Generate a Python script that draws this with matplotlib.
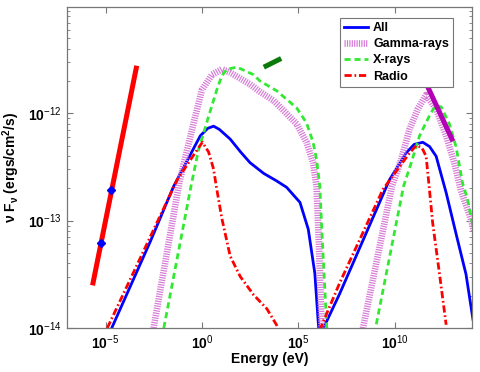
import matplotlib
matplotlib.use("Agg")
import matplotlib.pyplot as plt
import numpy as np
from matplotlib.ticker import FixedLocator, LogLocator, NullLocator, NullFormatter

plt.rcParams.update({
    "font.family": ["Liberation Sans", "DejaVu Sans"],
    "mathtext.fontset": "custom",
    "mathtext.rm": "Liberation Sans",
    "mathtext.it": "Liberation Sans:italic",
    "mathtext.bf": "Liberation Sans:bold",
})

# ---------------------------------------------------------------- data
# all values are log10(E/eV) and log10(nu F_nu / erg cm^-2 s^-1)
all_logE = [-4.68, -2.67, -1.47, -0.09, 0.30, 0.60, 0.90, 1.46, 2.00, 2.49, 3.20,
            3.87, 4.39, 5.08, 5.51, 5.85, 6.02, 6.18, 6.30, 7.14, 9.72, 10.58,
            11.00, 11.45, 11.80, 12.14, 12.66, 13.17, 13.69, 14.05]
all_logF = [-14.0, -13.19, -12.68, -12.21, -12.14, -12.12, -12.15, -12.24, -12.36,
            -12.46, -12.56, -12.63, -12.69, -12.83, -13.08, -13.49, -13.93, -14.3,
            -14.0, -13.68, -12.62, -12.37, -12.29, -12.27, -12.31, -12.40, -12.74,
            -13.12, -13.50, -13.92]

gamma_logE = [-2.51, -1.17, -0.77, -0.35, 0.00, 0.52, 1.03, 1.46, 2.49, 3.01, 3.70,
              4.04, 4.91, 5.42, 5.76, 5.94, 6.06, 6.20, 7.3, 8.35, 9.85, 10.33,
              10.76, 11.19, 11.62, 12.14, 12.66, 13.08, 13.43, 13.95, 14.1]
gamma_logF = [-14.0, -12.64, -12.34, -12.03, -11.78, -11.64, -11.59, -11.62, -11.73,
              -11.80, -11.88, -11.94, -12.10, -12.27, -12.46, -12.68, -13.2, -14.0,
              -15.0, -14.0, -12.68, -12.43, -12.15, -11.96, -11.83, -11.96, -12.21,
              -12.46, -12.72, -12.99, -13.1]

xray_logE = [-1.98, -0.55, -0.18, 0.34, 0.77, 1.03, 1.29, 1.81, 2.67, 3.01, 3.87,
             4.91, 5.42, 5.76, 5.94, 6.11, 6.21, 6.37, 6.47, 7.7, 9.0, 10.45,
             10.85, 11.28, 11.80, 12.10, 12.40, 12.83, 13.17, 13.51, 13.77, 13.94, 14.1]
xray_logF = [-14.0, -12.66, -12.34, -12.03, -11.78, -11.65, -11.59, -11.57, -11.64,
             -11.70, -11.79, -11.95, -12.09, -12.27, -12.43, -12.68, -13.08, -13.64,
             -14.0, -15.0, -14.0, -12.68, -12.46, -12.21, -12.02, -11.93, -11.94,
             -12.10, -12.31, -12.65, -12.80, -12.96, -13.1]

radio_logE = [-4.91, -1.29, -0.40, 0.02, 0.34, 0.60, 0.74, 1.03, 1.46, 1.98, 2.67,
              3.36, 3.96, 5.0, 6.15, 7.14, 9.38, 10.76, 11.11, 11.40, 11.62, 11.76,
              11.96, 12.31, 12.66]
radio_logF = [-14.0, -12.62, -12.38, -12.27, -12.36, -12.52, -12.68, -12.98, -13.33,
              -13.52, -13.69, -13.82, -14.0, -15.0, -14.0, -13.58, -12.71, -12.37,
              -12.30, -12.32, -12.40, -12.65, -13.02, -13.49, -13.97]

# observed data
radio_obs_logE = [-5.65, -3.41]
radio_obs_logF = [-13.58, -11.58]
radio_pts_logE = [-5.25, -4.74]
radio_pts_logF = [-13.21, -12.71]
xray_obs_logE = [3.32, 3.99]
xray_obs_logF = [-11.56, -11.50]
gamma_obs_logE = [11.36, 12.96]
gamma_obs_logF = [-11.62, -12.24]

xtick_exp = [-5, 0, 5, 10]
ytick_exp = [-14, -13, -12]


def p(v):
    return 10.0 ** np.asarray(v)


fig = plt.figure(figsize=(4.8, 3.72), dpi=100)
ax = fig.add_axes([67 / 480, 44 / 372, 405 / 480, 321 / 372])

ax.plot(p(all_logE), p(all_logF), "-", color="blue", lw=2.0, label="All")
ax.plot(p(gamma_logE), p(gamma_logF), color="#d77ad7", lw=4.8,
        dashes=(0.18, 0.18), label="Gamma-rays")
ax.plot(p(xray_logE), p(xray_logF), "--", color="#33e833", lw=2.0,
        dashes=(2.2, 1.4), label="X-rays")
ax.plot(p(radio_logE), p(radio_logF), "-.", color="red", lw=2.0,
        dashes=(2.6, 1.0, 0.6, 1.0), label="Radio")

ax.plot(p(radio_obs_logE), p(radio_obs_logF), "-", color="red", lw=3.6)
ax.plot(p(radio_pts_logE), p(radio_pts_logF), "D", color="blue", ms=4.5)
ax.plot(p(xray_obs_logE), p(xray_obs_logF), "-", color="#0b7a0b", lw=3.6)
ax.plot(p(gamma_obs_logE), p(gamma_obs_logF), "-", color="#b400b4", lw=3.6)

ax.set_xscale("log")
ax.set_yscale("log")
ax.set_xlim(1e-7, 1e14)
ax.set_ylim(1e-14, 10 ** -11.01)

ax.xaxis.set_major_locator(FixedLocator([10.0 ** e for e in xtick_exp]))
ax.xaxis.set_minor_locator(NullLocator())
ax.set_xticklabels([r"$\mathbf{10}^{%d}$" % e for e in xtick_exp], fontsize=10)
ax.yaxis.set_major_locator(FixedLocator([10.0 ** e for e in ytick_exp]))
ax.yaxis.set_minor_locator(LogLocator(base=10, subs=np.arange(2, 10)))
ax.yaxis.set_minor_formatter(NullFormatter())
ax.set_yticklabels([r"$\mathbf{10}^{%d}$" % e for e in ytick_exp], fontsize=10)

ax.tick_params(which="both", direction="in", top=True, right=True,
               color="#777777")
ax.tick_params(which="major", length=4, width=0.8, pad=4)
ax.tick_params(which="minor", length=2.5, width=0.6)
for s in ax.spines.values():
    s.set_color("#777777")
    s.set_linewidth(0.9)

ax.set_xlabel("Energy (eV)", fontsize=10, fontweight="bold", labelpad=0)
ax.set_ylabel(r"ν F$_{\mathregular{ν}}$ (ergs/cm$^{\mathregular{2}}$/s)",
              fontsize=10, fontweight="bold", labelpad=4)

leg = ax.legend(loc="upper right", bbox_to_anchor=(0.954, 0.967),
                prop={"size": 9, "weight": "bold"}, fancybox=False,
                edgecolor="#777777", framealpha=1, handlelength=1.9,
                handletextpad=0.4, labelspacing=0.34, borderpad=0.35,
                borderaxespad=0)
leg.get_frame().set_linewidth(0.8)

fig.savefig("out.png", dpi=100)
